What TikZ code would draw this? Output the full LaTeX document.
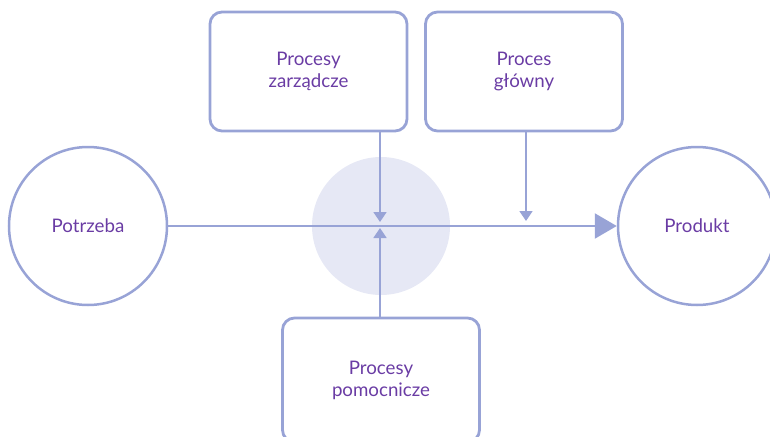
\documentclass[tikz,border=0pt]{standalone}
\usepackage{fontspec}
\setmainfont{Lato}
\usetikzlibrary{arrows.meta}
\definecolor{lineblue}{HTML}{98A3D6}
\definecolor{hubfill}{HTML}{E6E8F5}
\definecolor{textpurple}{HTML}{6A3CA4}
\tikzset{
  label text/.style={text=textpurple, font=\fontsize{18.7}{22}\selectfont, align=center},
  endcircle/.style={circle, draw=lineblue, line width=2.5pt, minimum size=158pt, inner sep=0pt, label text},
  procbox/.style={draw=lineblue, line width=2.8pt, rounded corners=12pt, minimum width=197pt, minimum height=119pt, inner sep=0pt, label text},
  hub/.style={circle, fill=hubfill, minimum size=138pt, inner sep=0pt},
  feed/.style={draw=lineblue, line width=1.6pt, -{Triangle[length=10pt,width=13pt]}},
  mainflow/.style={draw=lineblue, line width=2.4pt, -{Triangle[length=22pt,width=25pt]}}
}
\begin{document}
\begin{tikzpicture}[x=1pt, y=-1pt]
  \useasboundingbox (0,0) rectangle (770,436);
  \clip (0,0) rectangle (770,436);

  % central hub
  \node[hub] (hub) at (381,226) {};

  % start and end states
  \node[endcircle] (need) at (88,226) {Potrzeba};
  \node[endcircle] (prod) at (697,226) {Produkt};

  % process boxes
  \node[procbox] (mgmt) at (308.5,71.5) {Procesy\\zarządcze};
  \node[procbox] (main) at (524,71.5) {Proces\\główny};
  \node[procbox, minimum height=124pt] (supp) at (381,380) {Procesy\\pomocnicze};

  % tips of the feeding arrows on the main flow
  \coordinate (mgmtTip) at (380,222);
  \coordinate (mainTip) at (526,221);
  \coordinate (suppTip) at (380,228);

  % main flow
  \draw[mainflow] (need.east) -- (prod.west);

  % feeding processes
  \draw[feed] (mgmt.south -| mgmtTip) -- (mgmtTip);
  \draw[feed] (main.south -| mainTip) -- (mainTip);
  \draw[feed] (supp.north -| suppTip) -- (suppTip);
\end{tikzpicture}
\end{document}
